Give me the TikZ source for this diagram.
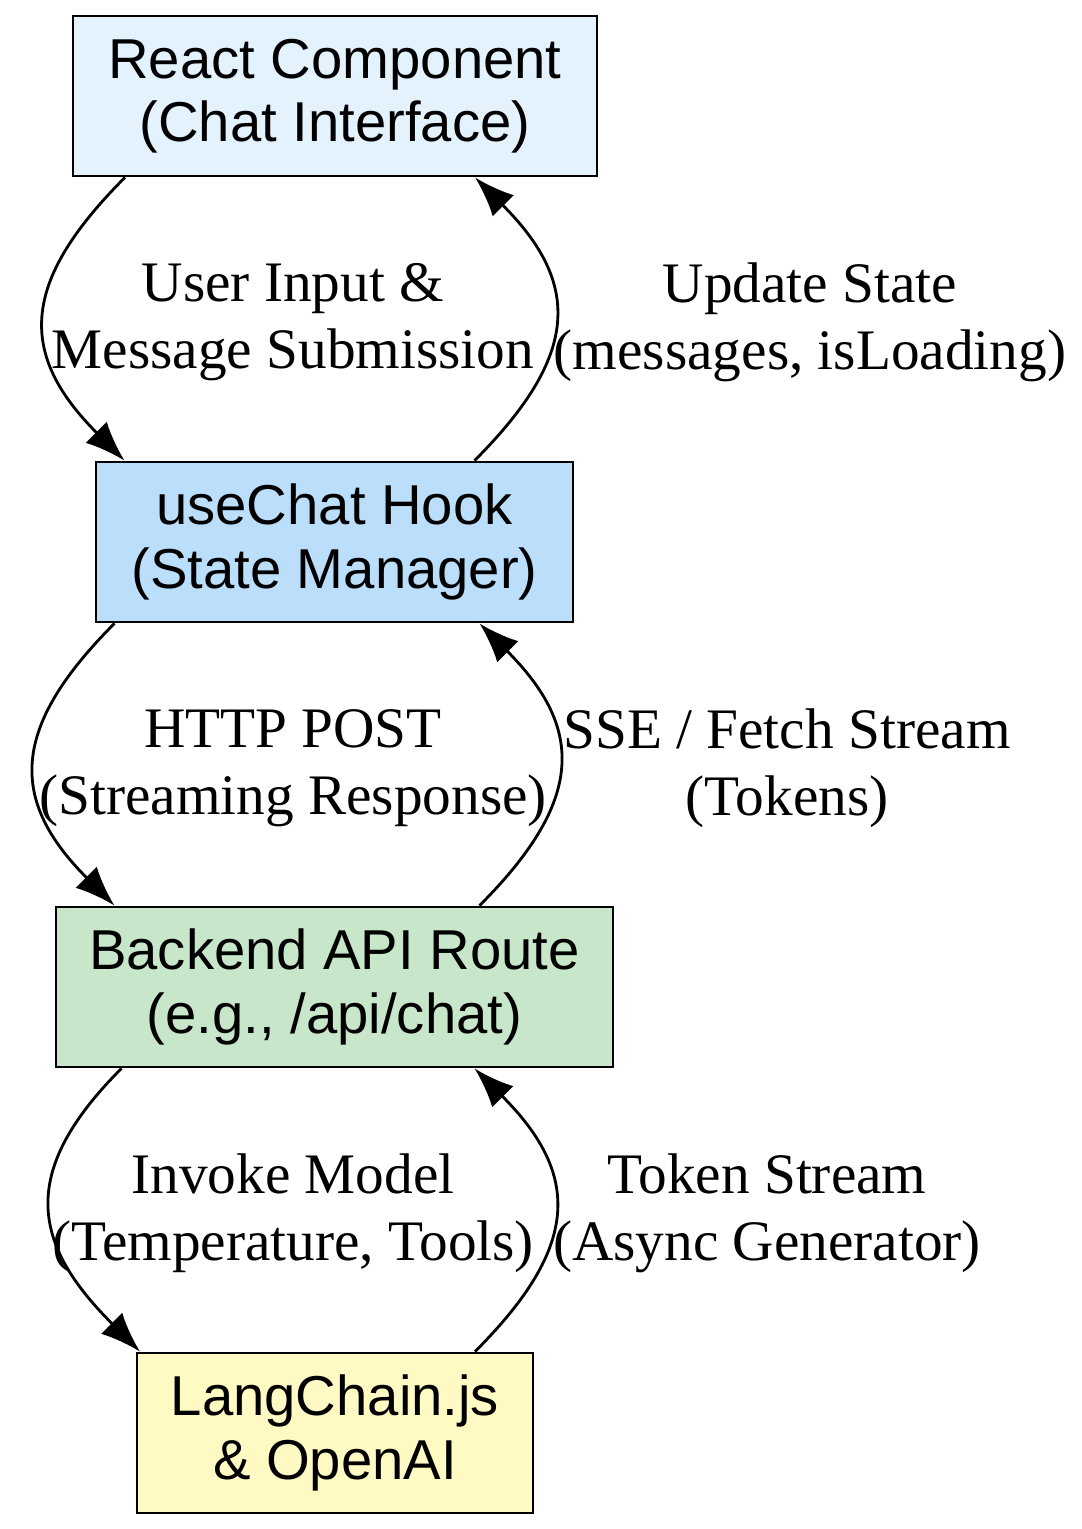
\documentclass[tikz,border=0pt]{standalone}
\usepackage{fontspec}
\setmainfont{Liberation Serif}
\setsansfont{Liberation Sans}
\usetikzlibrary{arrows.meta}
\definecolor{reactfill}{HTML}{E3F2FD}
\definecolor{hookfill}{HTML}{BBDEFB}
\definecolor{apifill}{HTML}{C8E6C9}
\definecolor{chainfill}{HTML}{FFF9C4}
\tikzset{
  block/.style={draw, thick, minimum height=1.6cm, align=center, font=\sffamily\fontsize{16}{18}\selectfont},
  flow/.style={thick, looseness=1.35, -{Latex[length=4mm,width=3mm]}},
  lab/.style={align=center, font=\fontsize{16.3}{19}\selectfont}
}
\begin{document}
\begin{tikzpicture}
\useasboundingbox (0,0) rectangle (10.82,-15.29);
\node[block, fill=reactfill, minimum width=5.24cm] (react) at (3.35,-0.96) {React Component\\(Chat Interface)};
\node[block, fill=hookfill, minimum width=4.77cm] (hook) at (3.345,-5.42) {useChat Hook\\(State Manager)};
\node[block, fill=apifill, minimum width=5.57cm] (api) at (3.345,-9.87) {Backend API Route\\(e.g., /api/chat)};
\node[block, fill=chainfill, minimum width=3.96cm] (chain) at (3.35,-14.33) {LangChain.js\\\& OpenAI};

\draw[flow] ([xshift=-21mm]react.south) to[out=225, in=135] ([xshift=-21mm]hook.north);
\draw[flow] ([xshift=14mm]hook.north) to[out=45, in=-45] ([xshift=14mm]react.south);
\draw[flow] ([xshift=-22mm]hook.south) to[out=225, in=135] ([xshift=-22mm]api.north);
\draw[flow] ([xshift=14.5mm]api.north) to[out=45, in=-45] ([xshift=14.5mm]hook.south);
\draw[flow] ([xshift=-21.3mm]api.south) to[out=225, in=135] ([xshift=-19.5mm]chain.north);
\draw[flow] ([xshift=14mm]chain.north) to[out=45, in=-45] ([xshift=14mm]api.south);

\node[lab] (l1) at (2.93,-3.22) {User Input \&\\Message Submission};
\node[lab] (r1) at (8.10,-3.22) {Update State\\(messages, isLoading)};
\node[lab] (l2) at (2.93,-7.68) {HTTP POST\\(Streaming Response)};
\node[lab] (r2) at (7.87,-7.68) {SSE / Fetch Stream\\(Tokens)};
\node[lab] (l3) at (2.93,-12.13) {Invoke Model\\(Temperature, Tools)};
\node[lab] (r3) at (7.67,-12.13) {Token Stream\\(Async Generator)};
\end{tikzpicture}
\end{document}
